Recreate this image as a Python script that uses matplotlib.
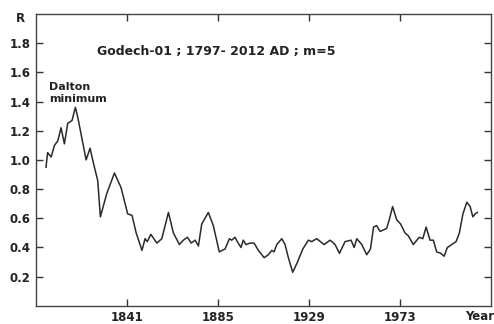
import matplotlib.pyplot as plt

# Data (year, R)
years = [1801.8, 1802.6, 1804.3, 1805.9, 1807.5, 1809.1, 1810.7, 1812.3, 1814.4, 1816.0,
         1817.2, 1821.2, 1823.1, 1825.2, 1826.8, 1828.1, 1831.2, 1834.9, 1838.1, 1841.3,
         1843.4, 1845.4, 1848.2, 1849.7, 1850.8, 1852.5, 1855.4, 1857.8, 1861.0, 1863.4,
         1866.3, 1868.2, 1870.2, 1872.0, 1873.9, 1875.5, 1877.1, 1880.3, 1882.7, 1885.6,
         1888.4, 1890.5, 1891.6, 1893.2, 1894.3, 1896.1, 1897.2, 1898.5, 1900.5, 1902.4,
         1904.5, 1907.3, 1909.3, 1911.0, 1912.1, 1913.4, 1915.8, 1917.4, 1919.0, 1921.1,
         1923.1, 1926.0, 1928.7, 1930.3, 1932.7, 1936.3, 1939.2, 1941.6, 1943.7, 1946.4,
         1949.3, 1950.8, 1952.1, 1954.5, 1956.9, 1958.7, 1960.2, 1961.7, 1963.3, 1964.9,
         1966.5, 1967.8, 1969.4, 1971.4, 1973.3, 1975.4, 1977.0, 1979.4, 1982.3, 1984.0,
         1985.6, 1987.5, 1989.1, 1990.7, 1992.7, 1994.3, 1995.9, 1998.0, 2000.1, 2001.7,
         2003.4, 2005.3, 2006.9, 2008.2, 2009.3, 2010.4]
r_values = [0.95, 1.05, 1.02, 1.10, 1.13, 1.22, 1.11, 1.25, 1.27, 1.36,
            1.29, 1.00, 1.08, 0.95, 0.86, 0.61, 0.77, 0.91, 0.81, 0.63,
            0.62, 0.50, 0.38, 0.46, 0.44, 0.49, 0.43, 0.46, 0.64, 0.50,
            0.42, 0.45, 0.47, 0.43, 0.45, 0.41, 0.56, 0.64, 0.55, 0.37,
            0.39, 0.46, 0.45, 0.47, 0.44, 0.40, 0.45, 0.42, 0.43, 0.43,
            0.38, 0.33, 0.35, 0.38, 0.37, 0.42, 0.46, 0.42, 0.33, 0.23,
            0.29, 0.39, 0.45, 0.44, 0.46, 0.42, 0.45, 0.42, 0.36, 0.44,
            0.45, 0.40, 0.46, 0.42, 0.35, 0.39, 0.54, 0.55, 0.51, 0.52,
            0.53, 0.59, 0.68, 0.59, 0.56, 0.50, 0.48, 0.42, 0.47, 0.46,
            0.54, 0.45, 0.45, 0.37, 0.36, 0.34, 0.40, 0.42, 0.44, 0.50,
            0.63, 0.71, 0.68, 0.61, 0.63, 0.64]

x_ticks = [1841, 1885, 1929, 1973]
y_ticks = [0.2, 0.4, 0.6, 0.8, 1.0, 1.2, 1.4, 1.6, 1.8]

fig = plt.figure(figsize=(4.94, 3.24), dpi=100)
ax = fig.add_axes([0.073, 0.056, 0.921, 0.901])

ax.plot(years, r_values, color='#2a2a2a', linewidth=1.1)

ax.set_xlim(1797, 2017)
ax.set_ylim(0, 2.0)
ax.set_xticks(x_ticks)
ax.set_yticks(y_ticks)
ax.set_yticklabels([f"{v:.1f}" for v in y_ticks])
ax.tick_params(direction='in', length=5, width=1, color='#333333',
               top=True, right=True, labelsize=8.5, labelcolor='#222222')
ax.tick_params(axis='x', pad=3.5)
ax.tick_params(axis='y', pad=4)
for lbl in ax.get_xticklabels() + ax.get_yticklabels():
    lbl.set_fontweight('bold')
for sp in ax.spines.values():
    sp.set_color('#444444')
    sp.set_linewidth(1.0)

# Texts
fig.text(20 / 494, 1 - 19 / 324, "R", fontsize=8.5, fontweight='bold',
         color='#222222', ha='center', va='center')
fig.text(480 / 494, 1 - 317 / 324, "Year", fontsize=8.5, fontweight='bold',
         color='#222222', ha='center', va='center')
fig.text(97 / 494, 1 - 51 / 324, "Godech-01 ; 1797- 2012 AD ; m=5", fontsize=9,
         fontweight='bold', color='#222222', ha='left', va='center')
fig.text(49 / 494, 1 - 93 / 324, "Dalton\nminimum", fontsize=8,
         fontweight='bold', color='#222222', ha='left', va='center', linespacing=1.2)

fig.savefig('out.png', dpi=100)
